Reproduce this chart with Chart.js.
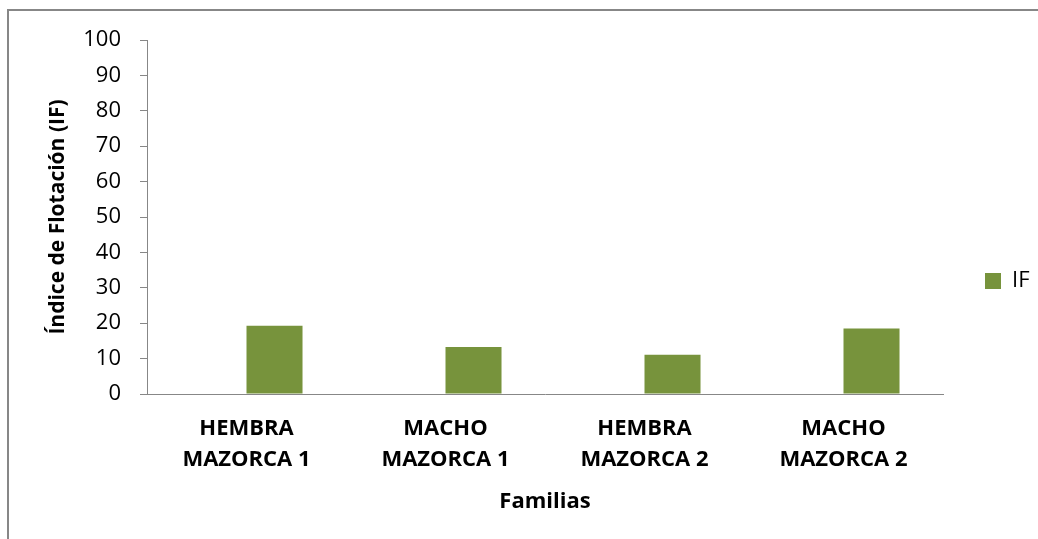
<!DOCTYPE html>
<html><head><meta charset="utf-8">
<script src="https://cdn.jsdelivr.net/npm/chart.js@4.4.0/dist/chart.umd.min.js"></script>
<style>
html,body{margin:0;padding:0;background:#fff;}
#wrap{position:relative;width:1038px;height:539px;overflow:hidden;background:#fff;}
#frame{position:absolute;left:7px;top:9px;width:1100px;height:600px;border-left:2px solid #878787;border-top:2px solid #878787;}
canvas{position:absolute;left:0;top:0;}
</style></head><body>
<div id="wrap"><div id="frame"></div><canvas id="c" width="1038" height="539"></canvas></div>
<script>
const categories = [["HEMBRA","MAZORCA 1"],["MACHO","MAZORCA 1"],["HEMBRA","MAZORCA 2"],["MACHO","MAZORCA 2"]];
const seriesName = "IF";
const ifValues = [19.3, 13.3, 11.1, 18.5];
const emptySeries = [null, null, null, null];
const yMin = 0, yMax = 100, yStep = 10;
const xTitle = "Familias";
const yTitle = "Índice de Flotación (IF)";

const FONT = "'Open Sans', 'DejaVu Sans', sans-serif";
const AXIS = "#878787";

new Chart(document.getElementById('c'), {
  type: 'bar',
  data: {
    labels: categories,
    datasets: [
      { label: '', data: emptySeries, backgroundColor: '#4F81BD' },
      { label: seriesName, data: ifValues, backgroundColor: '#77933C', borderWidth: 0 }
    ]
  },
  options: {
    responsive: false,
    animation: false,
    devicePixelRatio: 1,
    categoryPercentage: 0.563,
    barPercentage: 1,
    layout: { padding: { left: 45, top: 40, right: 0, bottom: 17 } },
    plugins: {
      tooltip: { enabled: false },
      legend: {
        position: 'right',
        align: 'center',
        maxWidth: 95,
        labels: {
          boxWidth: 16, boxHeight: 16, padding: 42, color: '#000',
          font: { family: FONT, size: 22 },
          filter: item => item.text === seriesName
        }
      }
    },
    scales: {
      x: {
        grid: { display: false, drawTicks: false },
        border: { display: true, color: AXIS, width: 1 },
        ticks: {
          color: '#000', padding: 19, maxRotation: 0, autoSkip: false,
          font: { family: FONT, size: 22, weight: 'bold', lineHeight: 1.42 }
        },
        title: {
          display: true, text: xTitle, color: '#000', padding: { top: 0, bottom: 7 },
          font: { family: FONT, size: 22, weight: 'bold', lineHeight: 1.2 }
        },
        afterFit: s => { s.height = 128; }
      },
      y: {
        min: yMin, max: yMax,
        ticks: { stepSize: yStep, padding: 19, color: '#000', font: { family: FONT, size: 22 } },
        grid: { drawOnChartArea: false, drawTicks: true, tickLength: 7, color: AXIS },
        border: { display: true, color: AXIS, width: 1 },
        title: {
          display: true, text: yTitle, color: '#000', padding: 0,
          font: { family: FONT, size: 21, weight: 'bold', lineHeight: 1.2 }
        },
        afterFit: s => { s.width = 102; }
      }
    }
  }
});
</script>
</body></html>
